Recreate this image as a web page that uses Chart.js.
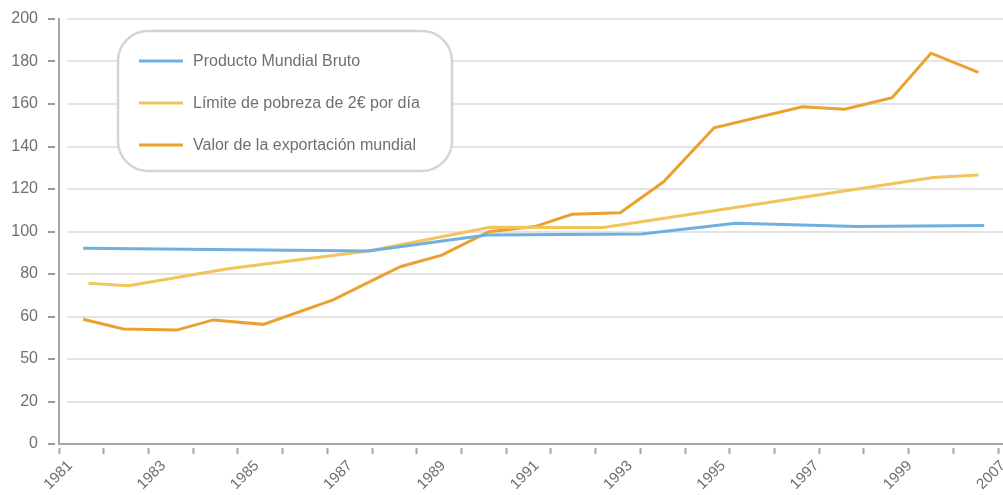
<!DOCTYPE html>
<html lang="es">
<head>
  <meta charset="UTF-8" />
  <title>Producto Mundial Bruto, pobreza y exportación</title>
  <script src="https://cdn.jsdelivr.net/npm/chart.js"></script>
  <style>
    html, body { margin: 0; padding: 0; background: #fff; overflow: hidden; }
    #wrap { width: 1003px; height: 520px; }
  </style>
</head>
<body>
  <div id="wrap"><canvas id="chartCanvas" width="1003" height="520"></canvas></div>

  <script>
    // tick labels as printed on the original (the y labels are not evenly valued)
    const yTickLabels = ['0', '20', '50', '60', '80', '100', '120', '140', '160', '180', '200'];
    const xTickLabels = ['1981', '1983', '1985', '1987', '1989', '1991', '1993', '1995', '1997', '1999', '2007'];
    const xTickMarks = 22; // unlabelled tick marks along the bottom axis

    const seriesNames = ['Producto Mundial Bruto', 'Límite de pobreza de 2€ por día', 'Valor de la exportación mundial'];
    const seriesColors = ['#6fb0e0', '#f2c45a', '#e9a22f'];

    // x = position along the bottom axis (one unit per tick mark), y = value on the 0-200 grid
    const pmbX = [0.54, 6.92, 9.57, 13.03, 15.13, 17.85, 20.69];
    const pmbY = [92.1, 90.8, 98.4, 98.8, 103.9, 102.4, 102.8];

    const pobrezaX = [0.66, 1.55, 3.78, 6.92, 9.64, 12.17, 19.55, 20.56];
    const pobrezaY = [75.6, 74.5, 82.5, 90.8, 102.0, 101.9, 125.4, 126.6];

    const exportX = [0.54, 1.44, 2.63, 3.45, 4.57, 6.13, 7.63, 8.56, 9.61, 10.64, 11.47, 12.55, 13.52, 14.65, 16.62, 17.57, 18.63, 19.50, 20.56];
    const exportY = [58.7, 54.1, 53.6, 58.4, 56.3, 67.8, 83.4, 88.9, 99.9, 102.3, 108.1, 108.8, 123.4, 148.8, 158.7, 157.5, 163.0, 183.9, 174.9];

    const FONT = "'Liberation Sans', Arial, sans-serif";
    const TEXT = '#6f6f6f';

    function points(xs, ys) {
      return xs.map((x, i) => ({ x: x, y: ys[i] }));
    }

    function fixedTicks(count) {
      return (axis) => {
        axis.ticks = Array.from({ length: count }, (_, i) => ({ value: i }));
      };
    }

    function noSidePadding(axis) {
      axis.paddingLeft = 0;
      axis.paddingRight = 0;
      axis.paddingTop = 0;
      axis.paddingBottom = 0;
    }

    // rounded legend box in the upper left
    const legendBox = {
      id: 'legendBox',
      afterDraw(chart) {
        const ctx = chart.ctx;
        ctx.save();
        ctx.beginPath();
        ctx.roundRect(118, 31, 334, 140, 30);
        ctx.fillStyle = '#fff';
        ctx.fill();
        ctx.lineWidth = 2.5;
        ctx.strokeStyle = '#d4d4d4';
        ctx.stroke();
        chart.data.datasets.forEach((ds, i) => {
          const y = 61 + i * 42;
          ctx.beginPath();
          ctx.moveTo(139, y);
          ctx.lineTo(183, y);
          ctx.strokeStyle = ds.borderColor;
          ctx.lineWidth = 3;
          ctx.stroke();
          ctx.fillStyle = TEXT;
          ctx.font = '16px ' + FONT;
          ctx.textBaseline = 'middle';
          ctx.textAlign = 'left';
          ctx.fillText(ds.label, 193, y + 1);
        });
        ctx.restore();
      }
    };

    const ctx = document.getElementById('chartCanvas').getContext('2d');
    const chart = new Chart(ctx, {
      type: 'line',
      data: {
        datasets: [
          { label: seriesNames[0], data: points(pmbX, pmbY), borderColor: seriesColors[0] },
          { label: seriesNames[1], data: points(pobrezaX, pobrezaY), borderColor: seriesColors[1] },
          { label: seriesNames[2], data: points(exportX, exportY), borderColor: seriesColors[2] }
        ]
      },
      options: {
        responsive: false,
        animation: false,
        devicePixelRatio: 1,
        layout: { padding: { top: 19, left: 0, right: 0, bottom: 0 } },
        elements: {
          line: { borderWidth: 3, tension: 0, fill: false },
          point: { radius: 0, hoverRadius: 0 }
        },
        plugins: {
          legend: { display: false },
          tooltip: { enabled: false }
        },
        scales: {
          x: {
            type: 'linear',
            position: 'bottom',
            weight: 0,
            min: 0,
            max: 21.11,
            afterBuildTicks: fixedTicks(xTickMarks),
            afterFit: (axis) => { axis.height = 10; noSidePadding(axis); },
            ticks: { display: false },
            grid: {
              drawOnChartArea: false,
              tickLength: 10,
              tickWidth: 2,
              tickColor: '#a6a6a6',
              tickBorderDash: [6, 3],
              tickBorderDashOffset: 6
            },
            border: { color: '#a6a6a6', width: 2 }
          },
          xLabels: {
            type: 'linear',
            position: 'bottom',
            axis: 'x',
            weight: 1,
            min: -0.12,
            max: 10,
            afterBuildTicks: fixedTicks(xTickLabels.length),
            afterFit: (axis) => { axis.height = 66; noSidePadding(axis); },
            grid: { display: false, drawTicks: false },
            border: { display: false },
            ticks: {
              autoSkip: false,
              minRotation: 45,
              maxRotation: 45,
              padding: 3,
              color: TEXT,
              font: { family: FONT, size: 15 },
              callback: (v) => xTickLabels[Math.round(v)]
            }
          },
          y: {
            type: 'linear',
            position: 'left',
            min: 0,
            max: 200,
            afterFit: (axis) => { axis.width = 59; noSidePadding(axis); },
            ticks: {
              stepSize: 20,
              padding: 10,
              color: TEXT,
              font: { family: FONT, size: 16 },
              callback: (v, i) => yTickLabels[i]
            },
            grid: {
              color: '#e3e3e3',
              lineWidth: 2,
              tickLength: 11,
              tickWidth: 2,
              tickColor: '#9a9a9a',
              tickBorderDash: [7, 4]
            },
            border: { color: '#a6a6a6', width: 2, dash: [0, 7, 2000, 0] }
          }
        }
      },
      plugins: [legendBox]
    });
  </script>
</body>
</html>
